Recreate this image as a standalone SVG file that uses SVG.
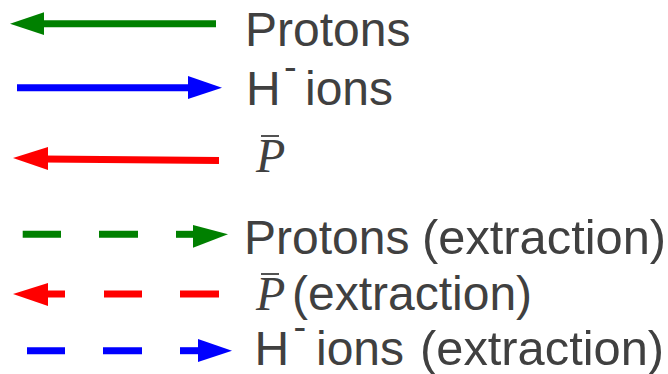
<svg xmlns="http://www.w3.org/2000/svg" width="668" height="374" viewBox="0 0 668 374">
<style>
.g{stroke:#008000;fill:#008000}
.b{stroke:#0000ff;fill:#0000ff}
.r{stroke:#ff0000;fill:#ff0000}
line{stroke-width:7}
polygon{stroke:none}
.t{font-family:"Liberation Sans",Arial,sans-serif;font-size:48px;fill:#404040}
.x{font-size:48.8px}
.sup{font-size:38px}
.m{font-family:"Liberation Serif","Times New Roman",serif;font-style:italic;font-size:48px;fill:#404040}
.bar{stroke:#404040;stroke-width:1.8}
</style>
<rect width="668" height="374" fill="#fff"/>
<g id="connectors">
<g id="protons-arrow" class="g"><line x1="40" y1="23.7" x2="216" y2="23.7"/><polygon points="10,23.7 44,12.3 44,35"/></g>
<g id="hminus-arrow" class="b"><line x1="17" y1="87.7" x2="192" y2="87.7"/><polygon points="222,87.7 188,76 188,99"/></g>
<g id="pbar-arrow" class="r"><line x1="44" y1="159" x2="219" y2="160.5"/><polygon points="13,158 48,147 48,170"/></g>
<g id="protons-ext-arrow" class="g"><line x1="22.7" y1="234.3" x2="61" y2="234.3"/><line x1="99" y1="234.3" x2="138" y2="234.3"/><line x1="176" y1="234.3" x2="196" y2="234.3"/><polygon points="228,234.3 193,225 193,247.7"/></g>
<g id="pbar-ext-arrow" class="r"><line x1="44" y1="294" x2="65" y2="294"/><line x1="104" y1="294" x2="142" y2="294"/><line x1="180" y1="294" x2="219" y2="294"/><polygon points="13,294 48,283 48,306"/></g>
<g id="hminus-ext-arrow" class="b"><line x1="27" y1="350.7" x2="65" y2="350.7"/><line x1="103" y1="350.7" x2="142" y2="350.7"/><line x1="180" y1="350.7" x2="202" y2="350.7"/><polygon points="232,350.7 198,339 198,362"/></g>
</g>
<g id="label-protons"><text class="t" x="245" y="46">Protons</text></g>
<g id="label-hminus"><text class="t" x="246" y="105">H<tspan class="sup" x="284" y="80">-</tspan><tspan x="305" y="105">ions</tspan></text></g>
<g id="label-pbar"><text class="m" x="256" y="172">P</text><line class="bar" x1="261" y1="136" x2="279" y2="136"/></g>
<g id="label-protons-ext"><text class="t" x="244" y="254">Protons<tspan class="x" x="422">(extraction)</tspan></text></g>
<g id="label-pbar-ext"><text class="m" x="256" y="310">P</text><line class="bar" x1="261" y1="274" x2="279" y2="274"/><text class="t" x="292" y="310">(extraction)</text></g>
<g id="label-hminus-ext"><text class="t" x="254.5" y="365">H<tspan class="sup" x="293.5" y="340">-</tspan><tspan x="316" y="365">ions</tspan><tspan class="x" x="420">(extraction)</tspan></text></g>
</svg>
